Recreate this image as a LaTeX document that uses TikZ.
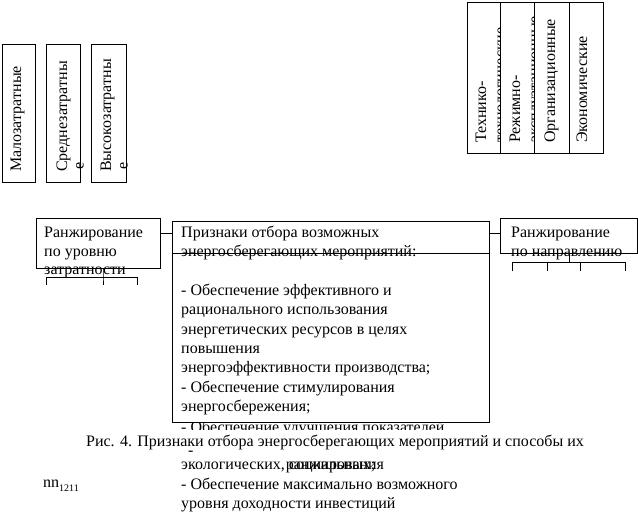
\documentclass[tikz,border=0pt]{standalone}
\usepackage{fontspec}
\setmainfont{Liberation Serif}
\begin{document}
\begin{tikzpicture}[x=1pt,y=-1pt,
  box/.style={draw,line width=0.9pt,inner sep=0pt,anchor=north west},
  txt/.style={inner sep=0pt,anchor=base west,font=\fontsize{16}{19.4}\selectfont},
  vtxt/.style={txt,rotate=90},
  capt/.style={inner sep=0pt,anchor=base,font=\fontsize{16}{19.4}\selectfont},
  ln/.style={line width=0.9pt}]
\useasboundingbox (0,0) rectangle (638,514);

% ---- left vertical boxes
\node[box,minimum width=33pt,minimum height=138pt] (m1) at (2,44) {};
\node[box,minimum width=34pt,minimum height=138pt] (m2) at (46,44) {};
\node[box,minimum width=35pt,minimum height=138pt] (m3) at (91,44) {};
\node[vtxt] (m1t) at (21,172) {Малозатратные};
\node[vtxt] (m2t) at (67,172) {Среднезатратны};
\node[vtxt] (m2e) at (83.5,170) {е};
\node[vtxt] (m3t) at (111,172) {Высокозатратны};
\node[vtxt] (m3e) at (127.5,170) {е};

% ---- right vertical boxes
\node[box,minimum width=33pt,minimum height=151pt] (t1) at (467,2) {};
\node[box,minimum width=34pt,minimum height=151pt] (t2) at (500,2) {};
\node[box,minimum width=35pt,minimum height=151pt] (t3) at (534,2) {};
\node[box,minimum width=34pt,minimum height=151pt] (t4) at (569,2) {};
\node[vtxt] (t1a) at (486,143) {Технико-};
\begin{scope}
  \clip (467,2) rectangle (500,153);
  \node[vtxt] (t1b) at (505,143) {технологические};
\end{scope}
\node[vtxt] (t2a) at (520,143) {Режимно-};
\begin{scope}
  \clip (500,2) rectangle (534,153);
  \node[vtxt] (t2b) at (539,143) {эксплуатационные};
\end{scope}
\node[vtxt] (t3a) at (555,143) {Организационные};
\node[vtxt] (t4a) at (587,143) {Экономические};

% ---- ranking boxes
\node[box,minimum width=124pt,minimum height=50pt] (rank1) at (36,218) {};
\node[txt] (r1a) at (44,237) {Ранжирование};
\node[txt] (r1b) at (44,256) {по уровню};
\node[txt] (r1c) at (44,274.5) {затратности};

\node[box,minimum width=137pt,minimum height=35pt] (rank2) at (500,218) {};
\node[txt] (r2a) at (511,237) {Ранжирование};
\node[txt] (r2b) at (511,256) {по направлению};

% ---- central box
\node[box,minimum width=317pt,minimum height=201pt] (big) at (172,221) {};
\coordinate (y233) at (0,233);
\coordinate (y253) at (0,253);
\draw[ln] (big.west |- y253) -- (big.east |- y253);
\draw[ln] (rank1.east |- y233) -- (big.west |- y233);
\draw[ln] (big.east |- y233) -- (rank2.west |- y233);

\node[txt] (b0) at (181,237) {Признаки отбора возможных};
\node[txt] (b1) at (181,256.4) {энергосберегающих мероприятий:};
\node[txt] (b3) at (181,295.2) {- Обеспечение эффективного и};
\node[txt] (b4) at (181,314.6) {рационального использования};
\node[txt] (b5) at (181,334) {энергетических ресурсов в целях};
\node[txt] (b6) at (181,353.4) {повышения};
\node[txt] (b7) at (181,372.8) {энергоэффективности производства;};
\node[txt] (b8) at (181,392.2) {- Обеспечение стимулирования};
\node[txt] (b9) at (181,411.6) {энергосбережения;};
\begin{scope}
  \clip (170,423) rectangle (500,429);
  \node[txt] (b10) at (181,432) {- Обеспечение улучшения показателей};
\end{scope}
\node[txt] (bd) at (188,455) {-};
\node[txt] (b12) at (181,469.8) {экологических, социальных;};
\node[txt] (b13) at (181,489.2) {- Обеспечение максимально возможного};
\node[txt] (b14) at (181,508.6) {уровня доходности инвестиций};

% ---- brackets
\coordinate (lbm) at (103,277);
\coordinate (lbl) at (46,277);
\coordinate (lbr) at (137,277);
\draw[ln] (rank1.south -| lbm) -- (lbm) -- ++(0,8);
\draw[ln] (lbl) -- (lbr);
\draw[ln] (lbl) -- ++(0,8);
\draw[ln] (lbr) -- ++(0,8);

\coordinate (rbm) at (569,262);
\coordinate (rbl) at (512,262);
\coordinate (rb2) at (547,262);
\coordinate (rb3) at (580,262);
\coordinate (rbr) at (625,262);
\draw[ln] (rank2.south -| rbm) -- (rbm);
\draw[ln] (rbl) -- (rbr);
\draw[ln] (rbl) -- ++(0,9);
\draw[ln] (rb2) -- ++(0,9);
\draw[ln] (rb3) -- ++(0,9);
\draw[ln] (rbr) -- ++(0,9);

% ---- caption
\node[capt] (cap1) at (335,446) {Рис. 4. Признаки отбора энергосберегающих мероприятий и способы их};
\node[capt] (cap2) at (335,469.8) {ранжирования};

\node[txt] (nn) at (43,487) {nn\raisebox{-4pt}{\fontsize{10}{10}\selectfont 1211}};
\end{tikzpicture}
\end{document}
